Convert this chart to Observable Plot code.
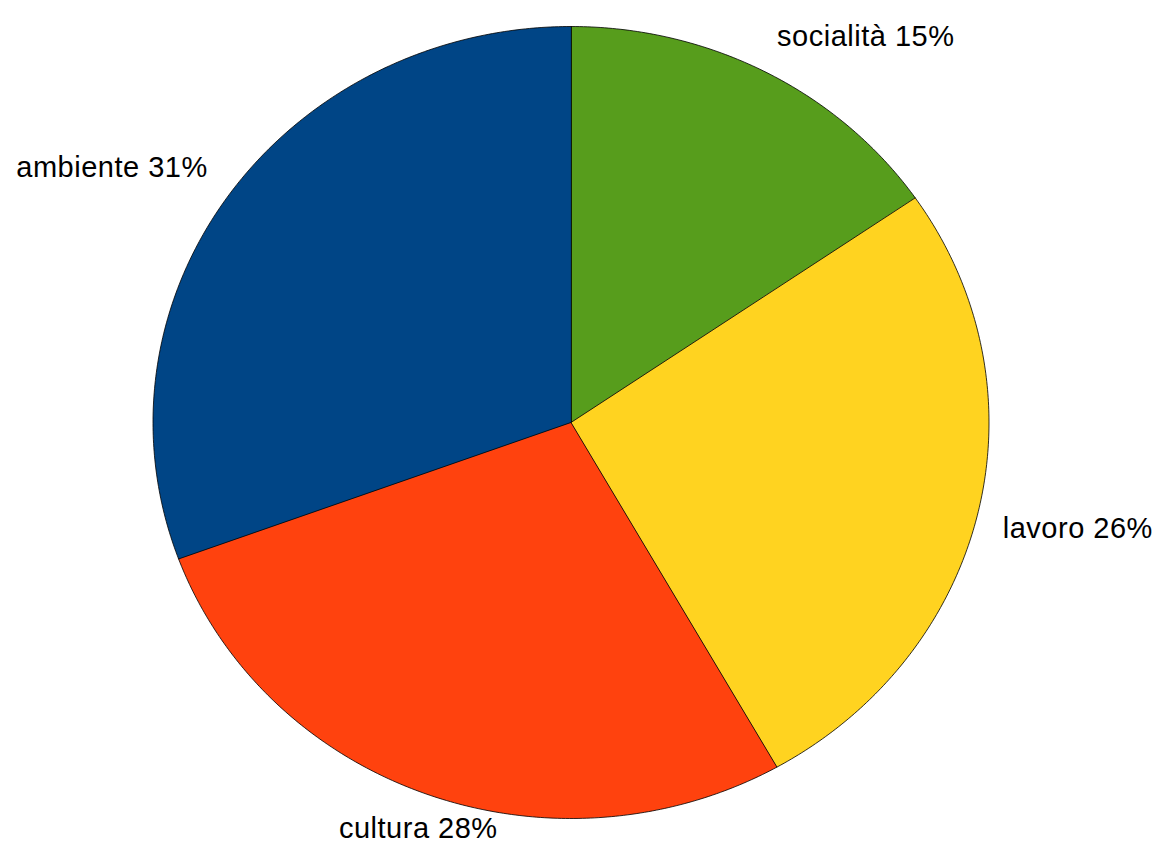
<!DOCTYPE html>
<html>
<head>
<meta charset="utf-8">
<script src="https://cdn.jsdelivr.net/npm/d3@7"></script>
<script src="https://cdn.jsdelivr.net/npm/@observablehq/plot@0.6"></script>
<style>
  body { margin: 0; background: #fff; }
</style>
</head>
<body>
<div id="chart"></div>
<script>
// slices clockwise from 12 o'clock
const categories = ["socialità", "lavoro", "cultura", "ambiente"];
const shares = [15.4, 26.4, 27.6, 30.6];
const colors = ["#579D1C", "#FFD320", "#FF420E", "#004586"];

const W = 1157, H = 860;
// pie is drawn slightly wider than tall, like the original
const cx = 570.5, cy = 422, rx = 418, ry = 396;

const rows = categories.map((c, i) => ({cat: c, share: shares[i]}));
const total = d3.sum(shares);
const arcs = d3.pie().sort(null).value((d) => d.share)(rows);

// outline of each slice: centre + arc, in unit coordinates
const outline = [];
for (const a of arcs) {
  outline.push({cat: a.data.cat, x: 0, y: 0});
  const n = Math.max(2, Math.ceil((a.endAngle - a.startAngle) / 0.01));
  for (let k = 0; k <= n; k++) {
    const t = a.startAngle + (a.endAngle - a.startAngle) * k / n;
    outline.push({cat: a.data.cat, x: Math.sin(t), y: Math.cos(t)});
  }
}

// label: nearest corner of the text sits just outside the slice middle
const labels = arcs.map((a) => {
  const m = (a.startAngle + a.endAngle) / 2;
  const s = Math.sin(m), c = Math.cos(m);
  return {
    x: 1.06 * s,
    y: 1.06 * c,
    text: `${a.data.cat} ${Math.round(a.data.share / total * 100)}%`,
    anchor: s > 0.4 ? "start" : s < -0.4 ? "end" : "middle",
    line: c > 0 ? "bottom" : "top"
  };
});

const textMarks = labels.map((l) =>
  Plot.text([l], {
    x: "x",
    y: "y",
    text: "text",
    textAnchor: l.anchor,
    lineAnchor: l.line,
    dy: l.line === "bottom" ? -5 : 1,
    fontSize: 29,
    fill: "black"
  })
);

const plt = Plot.plot({
  width: W,
  height: H,
  margin: 0,
  style: {fontFamily: "'Liberation Sans', Arial, sans-serif", letterSpacing: "0.5px", background: "#fff"},
  x: {domain: [-cx / rx, (W - cx) / rx], axis: null},
  y: {domain: [-(H - cy) / ry, cy / ry], axis: null},
  color: {domain: categories, range: colors},
  marks: [
    Plot.line(outline, {
      x: "x",
      y: "y",
      z: "cat",
      fill: "cat",
      stroke: "black",
      strokeWidth: 0.8,
      curve: "linear-closed"
    }),
    ...textMarks
  ]
});

document.querySelector("#chart").append(plt);
</script>
</body>
</html>
